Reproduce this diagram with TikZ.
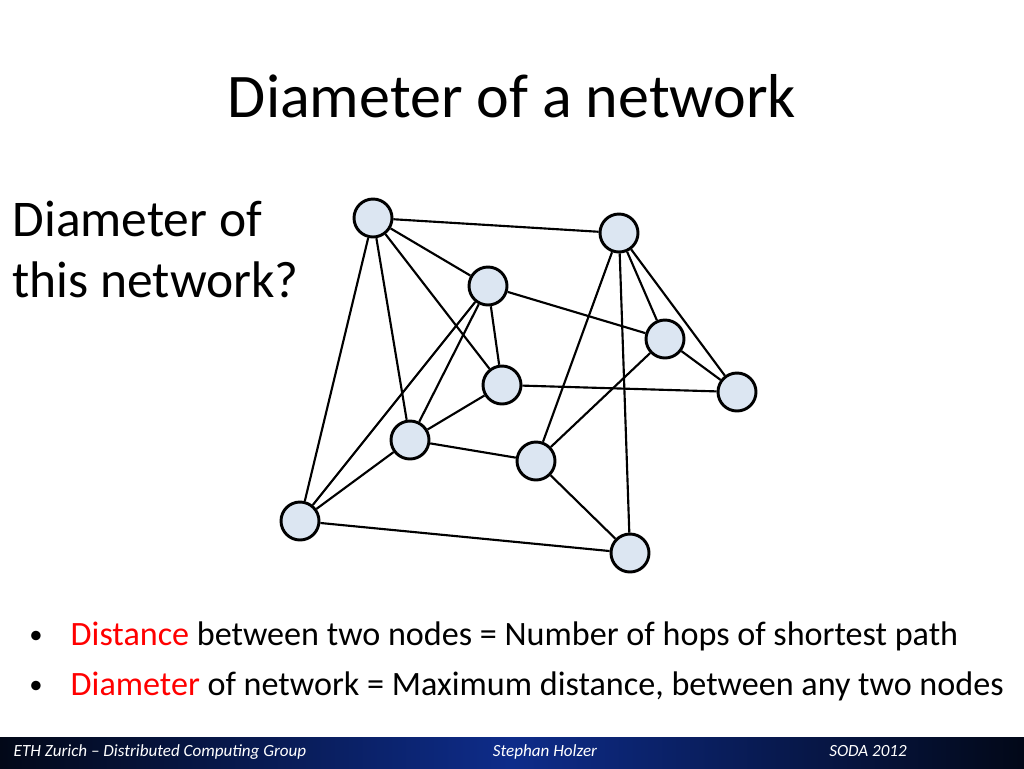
\documentclass[tikz,border=0pt]{standalone}
\usepackage{fontspec}
\setmainfont{Carlito}
\definecolor{nodefill}{HTML}{DCE6F2}
\definecolor{bulletred}{HTML}{FF0000}
\definecolor{barblue}{HTML}{0E2C8A}
\definecolor{bardark}{HTML}{020818}
\begin{document}
\begin{tikzpicture}[x=0.75pt, y=-0.75pt,
  vertex/.style={circle, draw=black, line width=2.2pt, fill=nodefill, minimum size=28.5pt, inner sep=0pt},
  edge/.style={line width=1.6pt},
  bullettext/.style={anchor=base west, font=\fontsize{25.6}{30}\selectfont},
  bulletdot/.style={anchor=base, font=\fontsize{20}{24}\selectfont},
  foot/.style={text=white, font=\fontsize{12.8}{15}\selectfont\itshape, anchor=base}]
\useasboundingbox (0,0) rectangle (1024,768);
\fill[white] (0,0) rectangle (1024,768);

% title and question
\node[anchor=base, font=\fontsize{46.5}{54}\selectfont] (title) at (512,117) {Diameter of a network};
\node[anchor=base west, font=\fontsize{38.6}{44}\selectfont] (q1) at (8,236) {Diameter of};
\node[anchor=base west, font=\fontsize{38.6}{44}\selectfont] (q2) at (8,297) {this network?};

% vertices
\node[vertex] (a) at (373,218) {};
\node[vertex] (b) at (619,233) {};
\node[vertex] (c) at (488,286) {};
\node[vertex] (d) at (665,339) {};
\node[vertex] (e) at (502,385) {};
\node[vertex] (f) at (737,392) {};
\node[vertex] (g) at (410,440) {};
\node[vertex] (h) at (536,461) {};
\node[vertex] (i) at (300,521) {};
\node[vertex] (j) at (630,553) {};

% edges
\foreach \u/\v in {a/b, a/c, a/e, a/g, a/i, c/d, c/e, c/g, c/i, b/d, b/f, b/h, b/j,
                   d/f, d/h, e/f, e/g, g/h, g/i, h/j, i/j}
  \draw[edge] (\u) -- (\v);

% bullets
\node[bulletdot] (b1) at (36,643) {•};
\node[bullettext] (t1) at (66,645) {\textcolor{bulletred}{Distance} between two nodes = Number of hops of shortest path};
\node[bulletdot] (b2) at (36,693) {•};
\node[bullettext] (t2) at (66,695) {\textcolor{bulletred}{Diameter} of network = Maximum distance, between any two nodes};

% footer bar
\shade[left color=bardark, right color=bardark, middle color=barblue] (0,737) rectangle (1024,768);
\node[foot, anchor=base west] (f1) at (9,756) {ETH Zurich -- Distributed Computing Group};
\node[foot] (f2) at (545,756) {Stephan Holzer};
\node[foot] (f3) at (868,756) {SODA 2012};
\end{tikzpicture}
\end{document}
